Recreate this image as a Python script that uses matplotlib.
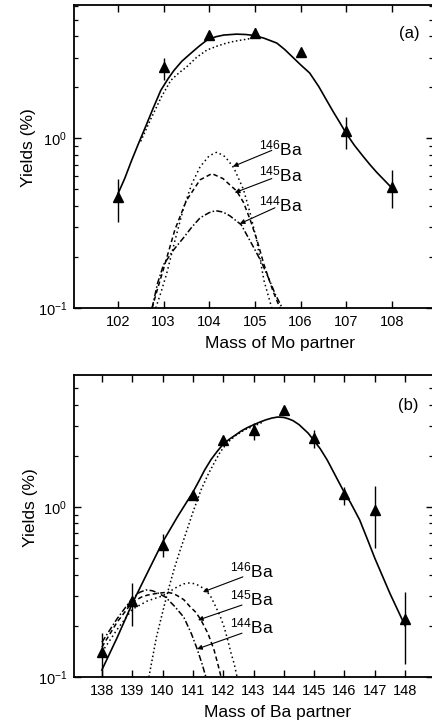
import matplotlib
matplotlib.use("Agg")
import matplotlib.pyplot as plt
from matplotlib.ticker import LogLocator, NullFormatter, FixedLocator

plt.rcParams['font.family'] = ['Liberation Sans', 'DejaVu Sans']
plt.rcParams['mathtext.fontset'] = 'custom'
plt.rcParams['mathtext.rm'] = 'Liberation Sans'
plt.rcParams['mathtext.it'] = 'Liberation Sans'
plt.rcParams['mathtext.default'] = 'regular'

# ---------------- Panel (a): Mo partner ----------------
mass_a = [102, 103, 104, 105, 106, 107, 108]
yield_a = [0.454, 2.63, 4.07, 4.18, 3.23, 1.10, 0.52]
yield_a_lo = [0.323, 2.20, 4.07, 3.95, 3.10, 0.87, 0.39]
yield_a_hi = [0.574, 3.00, 4.07, 4.50, 3.23, 1.33, 0.65]

fit_a_x = [102.0, 102.15, 102.3, 102.45, 102.6, 102.77, 102.94, 103.1, 103.23, 103.4,
           103.6, 103.78, 103.95, 104.15, 104.32, 104.6, 104.8, 104.98, 105.2, 105.48,
           105.65, 105.83, 106.0, 106.2, 106.4, 106.57, 106.72, 106.86, 107.0, 107.18,
           107.36, 107.52, 107.67, 107.84, 108.0]
fit_a_y = [0.47, 0.58, 0.74, 0.93, 1.16, 1.50, 1.92, 2.25, 2.52, 2.85,
           3.18, 3.50, 3.80, 3.98, 4.07, 4.12, 4.10, 4.05, 3.90, 3.65,
           3.35, 3.01, 2.72, 2.43, 2.02, 1.68, 1.43, 1.24, 1.07, 0.91,
           0.79, 0.70, 0.63, 0.565, 0.51]

sum_a_x = [102.5, 102.72, 102.95, 103.16, 103.35, 103.5, 103.72, 103.95, 104.17, 104.38,
           104.55, 104.7, 104.9, 105.1]
sum_a_y = [0.96, 1.30, 1.75, 2.20, 2.45, 2.63, 3.0, 3.32, 3.50, 3.65,
           3.74, 3.80, 3.88, 3.95]

ba146_a_x = [102.83, 102.95, 103.07, 103.25, 103.44, 103.62, 103.8, 104.0, 104.17, 104.35,
             104.54, 104.75, 104.9, 105.04, 105.2, 105.37]
ba146_a_y = [0.10, 0.125, 0.16, 0.25, 0.39, 0.54, 0.68, 0.79, 0.83, 0.78,
             0.67, 0.50, 0.36, 0.25, 0.145, 0.10]
ba145_a_x = [102.75, 102.87, 103.0, 103.25, 103.5, 103.8, 104.06, 104.3, 104.6, 104.75,
             104.9, 105.05, 105.2, 105.4, 105.55]
ba145_a_y = [0.10, 0.13, 0.17, 0.29, 0.43, 0.57, 0.62, 0.58, 0.49, 0.42,
             0.33, 0.25, 0.18, 0.125, 0.10]
ba144_a_x = [102.75, 102.87, 103.0, 103.22, 103.44, 103.62, 103.8, 104.0, 104.14, 104.3,
             104.45, 104.7, 104.98, 105.15, 105.3, 105.45, 105.6]
ba144_a_y = [0.10, 0.14, 0.18, 0.22, 0.26, 0.30, 0.34, 0.365, 0.375, 0.368,
             0.35, 0.31, 0.226, 0.185, 0.15, 0.12, 0.10]

# ---------------- Panel (b): Ba partner ----------------
mass_b = [138, 139, 140, 141, 142, 143, 144, 145, 146, 147, 148]
yield_b = [0.140, 0.28, 0.60, 1.18, 2.48, 2.84, 3.72, 2.55, 1.19, 0.96, 0.219]
yield_b_lo = [0.09, 0.20, 0.51, 1.10, 2.48, 2.48, 3.72, 2.22, 1.03, 0.57, 0.119]
yield_b_hi = [0.181, 0.357, 0.69, 1.18, 2.48, 3.10, 3.72, 2.84, 1.31, 1.33, 0.316]

fit_b_x = [138.0, 138.5, 139.0, 139.5, 140.0, 140.5, 141.0, 141.2, 141.39, 141.6,
           141.8, 142.0, 142.2, 142.38, 142.6, 142.8, 143.0, 143.2, 143.4, 143.6,
           143.8, 144.0, 144.15, 144.3, 144.5, 144.65, 144.8, 145.0, 145.2, 145.43,
           145.7, 145.95, 146.2, 146.5, 146.75, 147.0, 147.5, 148.0]
fit_b_y = [0.11, 0.17, 0.27, 0.41, 0.62, 0.88, 1.22, 1.42, 1.65, 1.90,
           2.12, 2.34, 2.50, 2.63, 2.80, 2.93, 3.04, 3.15, 3.25, 3.33,
           3.38, 3.36, 3.30, 3.22, 3.05, 2.88, 2.72, 2.45, 2.20, 1.89,
           1.53, 1.26, 1.06, 0.84, 0.65, 0.50, 0.31, 0.20]

sum_b_x = [139.55, 139.8, 140.05, 140.2, 140.38, 140.57, 140.77, 141.0, 141.27, 141.5,
           141.7, 141.9, 142.13, 142.4, 142.7, 143.0, 143.3]
sum_b_y = [0.10, 0.172, 0.26, 0.33, 0.43, 0.55, 0.70, 0.93, 1.26, 1.55,
           1.81, 2.10, 2.38, 2.62, 2.84, 2.98, 3.15]

ba146_b_x = [138.0, 138.5, 139.0, 139.5, 140.0, 140.5, 140.7, 140.87, 141.05, 141.2,
             141.43, 141.6, 141.75, 141.9, 142.03, 142.15, 142.25, 142.36, 142.46]
ba146_b_y = [0.14, 0.19, 0.25, 0.28, 0.30, 0.34, 0.353, 0.357, 0.354, 0.345,
             0.325, 0.295, 0.26, 0.228, 0.197, 0.165, 0.14, 0.12, 0.10]
ba145_b_x = [138.0, 138.5, 139.0, 139.3, 139.5, 139.8, 140.15, 140.35, 140.5, 140.7,
             140.9, 141.1, 141.27, 141.5, 141.7, 141.82, 141.93]
ba145_b_y = [0.15, 0.21, 0.275, 0.295, 0.303, 0.31, 0.315, 0.31, 0.30, 0.285,
             0.26, 0.24, 0.216, 0.18, 0.144, 0.12, 0.10]
ba144_b_x = [138.0, 138.5, 139.0, 139.25, 139.45, 139.65, 139.8, 140.1, 140.4, 140.7,
             140.95, 141.13, 141.3, 141.43]
ba144_b_y = [0.16, 0.22, 0.29, 0.315, 0.325, 0.322, 0.315, 0.295, 0.26, 0.225,
             0.18, 0.148, 0.12, 0.10]

iso_labels = ['$^{146}$Ba', '$^{145}$Ba', '$^{144}$Ba']

fig = plt.figure(figsize=(4.32, 7.27), dpi=100)
W, H = 432, 727


def make_ax(left_px, top_px, right_px, bottom_px):
    return fig.add_axes([left_px / W, 1 - bottom_px / H,
                         (right_px - left_px) / W, (bottom_px - top_px) / H])


def style(ax, xticks, xlim, ylim):
    ax.set_yscale('log')
    ax.set_xlim(*xlim)
    ax.set_ylim(*ylim)
    ax.xaxis.set_major_locator(FixedLocator(xticks))
    ax.yaxis.set_major_locator(LogLocator(base=10))
    ax.yaxis.set_minor_locator(LogLocator(base=10, subs=range(2, 10)))
    ax.yaxis.set_minor_formatter(NullFormatter())
    ax.tick_params(which='major', direction='in', length=5, width=1.0,
                   top=True, right=True, labelsize=10.5, pad=5)
    ax.tick_params(which='minor', direction='in', length=3, width=0.9,
                   top=True, right=True)
    for s in ax.spines.values():
        s.set_linewidth(1.3)


def draw_panel(ax, mass, y, lo, hi, fx, fy, sx, sy, isos):
    yerr = [[yi - l for yi, l in zip(y, lo)], [h - yi for yi, h in zip(y, hi)]]
    ax.errorbar(mass, y, yerr=yerr, fmt='^', color='black', ms=7,
                elinewidth=1.0, capsize=0, zorder=5)
    ax.plot(fx, fy, '-', color='black', lw=1.2)
    ax.plot(sx, sy, ':', color='black', lw=1.1)
    styles = [(0, (1, 2)), (0, (3, 2)), (0, (4, 1.5, 1, 1.5))]
    for (ix, iy), ls in zip(isos, styles):
        ax.plot(ix, iy, color='black', lw=1.1, linestyle=ls)


# Panel (a)
ax1 = make_ax(74, 5, 433, 308)
style(ax1, mass_a, (101.04, 108.9), (0.1, 6.12))
draw_panel(ax1, mass_a, yield_a, yield_a_lo, yield_a_hi, fit_a_x, fit_a_y,
           sum_a_x, sum_a_y,
           [(ba146_a_x, ba146_a_y), (ba145_a_x, ba145_a_y), (ba144_a_x, ba144_a_y)])
lab_a_y = [0.87, 0.61, 0.41]
tails_a = [(105.37, 0.85), (105.37, 0.58), (105.44, 0.39)]
heads_a = [(104.52, 0.683), (104.56, 0.479), (104.67, 0.314)]
for lab, ly, t, h in zip(iso_labels, lab_a_y, tails_a, heads_a):
    ax1.text(105.1, ly, lab, fontsize=12.5, ha='left', va='center')
    ax1.annotate('', xy=h, xytext=t,
                 arrowprops=dict(arrowstyle='-|>', color='black', lw=0.8,
                                 mutation_scale=7, shrinkA=0, shrinkB=0))
ax1.text(0.933, 0.905, '(a)', transform=ax1.transAxes, fontsize=12,
         ha='center', va='center')
ax1.set_xlabel('Mass of Mo partner', fontsize=12.5)
ax1.xaxis.set_label_coords(0.574, -0.116)
ax1.xaxis.label.set_va('center')
ax1.set_ylabel('Yields (%)', fontsize=12.5)
ax1.yaxis.set_label_coords(-0.128, 0.53)
ax1.yaxis.label.set_va('center')

# Panel (b)
ax2 = make_ax(74, 375, 433, 677)
style(ax2, mass_b, (137.08, 148.92), (0.1, 5.97))
draw_panel(ax2, mass_b, yield_b, yield_b_lo, yield_b_hi, fit_b_x, fit_b_y,
           sum_b_x, sum_b_y,
           [(ba146_b_x, ba146_b_y), (ba145_b_x, ba145_b_y), (ba144_b_x, ba144_b_y)])
lab_b_y = [0.426, 0.288, 0.197]
tails_b = [(142.65, 0.388), (142.62, 0.265), (142.62, 0.181)]
heads_b = [(141.33, 0.316), (141.17, 0.216), (141.14, 0.146)]
for lab, ly, t, h in zip(iso_labels, lab_b_y, tails_b, heads_b):
    ax2.text(142.22, ly, lab, fontsize=12.5, ha='left', va='center')
    ax2.annotate('', xy=h, xytext=t,
                 arrowprops=dict(arrowstyle='-|>', color='black', lw=0.8,
                                 mutation_scale=7, shrinkA=0, shrinkB=0))
ax2.text(0.93, 0.90, '(b)', transform=ax2.transAxes, fontsize=12,
         ha='center', va='center')
ax2.set_xlabel('Mass of Ba partner', fontsize=12.5)
ax2.xaxis.set_label_coords(0.568, -0.119)
ax2.xaxis.label.set_va('center')
ax2.set_ylabel('Yields (%)', fontsize=12.5)
ax2.yaxis.set_label_coords(-0.122, 0.56)
ax2.yaxis.label.set_va('center')

fig.savefig('out.png', dpi=100)
